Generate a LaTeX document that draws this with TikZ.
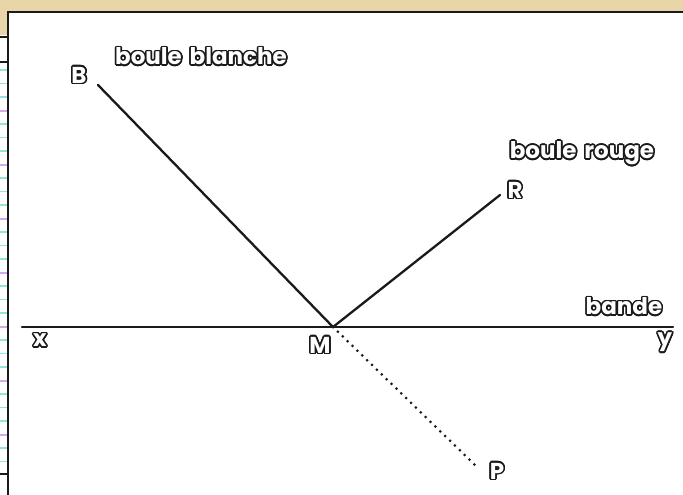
\documentclass[tikz,border=0pt]{standalone}
\usepackage{fontspec}
\usepackage[copies]{contour}
\usetikzlibrary{positioning, calc}
\newfontfamily\bubble{Poppins}[UprightFont=* Bold, WordSpace=1.6]
\definecolor{parchBg}{HTML}{E9D6A8}
\definecolor{inkDark}{HTML}{1A1A1A}
\definecolor{ruleCyan}{HTML}{8FE6D6}
\definecolor{rulePurple}{HTML}{D2A8F0}
\contourlength{1.6pt}
\contournumber{16}
\newcommand{\bl}[1]{\contour{inkDark}{\textcolor{white}{#1}}}

\begin{document}
\begin{tikzpicture}[
  x=1pt, y=-1pt,
  font=\bubble\fontsize{23}{27}\selectfont,
  tag/.style={inner sep=0pt},
  seg/.style={line width=2.3pt, draw=inkDark, line cap=round},
  reflet/.style={line width=3pt, draw=inkDark, line cap=round, dash pattern=on 0pt off 6.8pt},
]
\useasboundingbox (0,0) rectangle (683,495);

% ===== Frame ================================================================
\fill[white] (0,0) rectangle (683,495);
\fill[parchBg] (0,0) rectangle (683,12);
\fill[parchBg] (0,0) rectangle (8,35);
\foreach \k in {0,...,30}
  \draw[ruleCyan, line width=1.2pt] (0,{70+13.5*\k}) -- (7,{70+13.5*\k});
\foreach \k in {0,...,7}
  \draw[rulePurple, line width=1.8pt] (0,{111+54*\k}) -- (7,{111+54*\k});
\fill[white] (0,474) rectangle (8,495);
\draw[inkDark, line width=2.2pt] (0,37) -- (8,37);
\draw[inkDark, line width=2.2pt] (0,62) -- (8,62);
\draw[inkDark, line width=2.2pt] (0,474) -- (8,474);
\draw[inkDark, line width=2.4pt] (8,495) -- (8,12) -- (683,12);

% ===== Points ===============================================================
\coordinate (b) at (98,85);
\coordinate (r) at (500,195);
\coordinate (m) at (333,327);
\coordinate (p) at (477,467);
\coordinate (xl) at (22,327);
\coordinate (yr) at (673,327);

% ===== Labels ===============================================================
\node[tag] (B) at (79,76) {\bl{B}};
\node[tag] (blanche) at (201,57) {\bl{boule blanche}};
\node[tag] (R) at (515,191) {\bl{R}};
\node[tag] (rouge) at (582,154) {\bl{boule rouge}};
\node[tag] (bande) at (624,307) {\bl{bande}};
\node[tag] (x) at (40,341) {\bl{x}};
\node[tag] (M) at (320,346) {\bl{M}};
\node[tag] (y) at (665,343) {\bl{y}};
\node[tag] (P) at (497,472) {\bl{P}};

% ===== Lines ================================================================
\draw[seg] (xl) -- (yr);
\draw[seg] (b) -- (m) -- (r);
\draw[reflet] (m) -- (p);

\end{tikzpicture}
\end{document}
